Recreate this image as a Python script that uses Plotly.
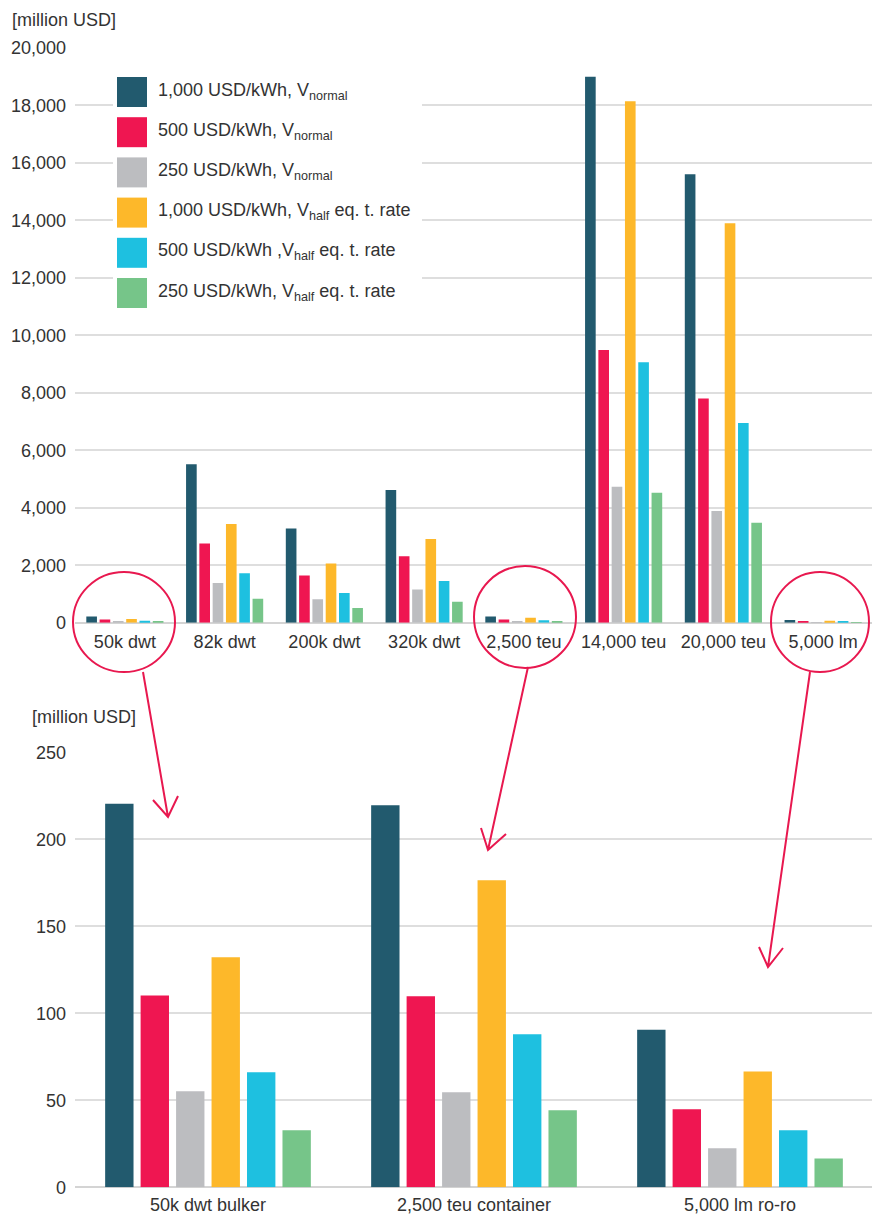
import plotly.graph_objects as go

# ---------------- data ----------------
top_categories = ["50k dwt", "82k dwt", "200k dwt", "320k dwt", "2,500 teu",
                  "14,000 teu", "20,000 teu", "5,000 lm"]
bottom_categories = ["50k dwt bulker", "2,500 teu container", "5,000 lm ro-ro"]

series_names = [
    "1,000 USD/kWh, V<sub>normal</sub>",
    "500 USD/kWh, V<sub>normal</sub>",
    "250 USD/kWh, V<sub>normal</sub>",
    "1,000 USD/kWh, V<sub>half</sub> eq. t. rate",
    "500 USD/kWh ,V<sub>half</sub> eq. t. rate",
    "250 USD/kWh, V<sub>half</sub> eq. t. rate",
]
series_colors = ["#225a6e", "#ef1651", "#bcbdc0", "#fdb82a", "#1ec0e0", "#76c589"]

top_1000_normal = [220, 5510, 3280, 4620, 219, 19000, 15610, 90]
top_500_normal = [110, 2760, 1640, 2310, 110, 9490, 7800, 45]
top_250_normal = [55, 1380, 820, 1155, 55, 4730, 3890, 22.5]
top_1000_half = [132, 3435, 2060, 2910, 176, 18150, 13900, 66]
top_500_half = [66, 1720, 1030, 1455, 88, 9060, 6950, 33]
top_250_half = [33, 835, 515, 728, 44, 4525, 3480, 16.5]

bottom_1000_normal = [220.5, 219.5, 90.5]
bottom_500_normal = [110.3, 109.8, 44.8]
bottom_250_normal = [55.2, 54.6, 22.4]
bottom_1000_half = [132.2, 176.4, 66.6]
bottom_500_half = [66.1, 87.9, 32.8]
bottom_250_half = [32.8, 44.3, 16.6]

top_series = [top_1000_normal, top_500_normal, top_250_normal,
              top_1000_half, top_500_half, top_250_half]
bottom_series = [bottom_1000_normal, bottom_500_normal, bottom_250_normal,
                 bottom_1000_half, bottom_500_half, bottom_250_half]

top_ticks = [0, 2000, 4000, 6000, 8000, 10000, 12000, 14000, 16000, 18000, 20000]
bottom_ticks = [0, 50, 100, 150, 200, 250]

# ---------------- layout helpers ----------------
# the page body has an 8px margin, so the figure starts at (8, 8) of the window
OX, OY = 8, 8
W, H = 872, 1207
FONT = "Liberation Sans, Arial, Helvetica, sans-serif"
TXT = "#333333"
GRID = "#dedede"
ACCENT = "#e8184f"


def px(x):
    return (x - OX) / W


def py(y):
    return 1 - (y - OY) / H


fig = go.Figure()

for name, color, vals in zip(series_names, series_colors, top_series):
    fig.add_trace(go.Bar(x=top_categories, y=vals, name=name, marker_color=color,
                         marker_line_width=0, xaxis="x", yaxis="y",
                         offsetgroup=name, showlegend=False))
for name, color, vals in zip(series_names, series_colors, bottom_series):
    fig.add_trace(go.Bar(x=bottom_categories, y=vals, name=name, marker_color=color,
                         marker_line_width=0, xaxis="x2", yaxis="y2",
                         offsetgroup=name, showlegend=False))

axis_common = dict(showline=False, ticks="", automargin=False,
                   tickfont=dict(size=18, color=TXT, family=FONT))

fig.update_layout(
    width=W, height=H,
    margin=dict(l=0, r=0, t=0, b=0, autoexpand=False),
    paper_bgcolor="white", plot_bgcolor="white",
    barmode="group", bargap=0.2, bargroupgap=0.2,
    font=dict(family=FONT, size=18, color=TXT),
    xaxis=dict(domain=[px(75), px(873)], anchor="y", showgrid=False,
               ticklabelstandoff=6, **axis_common),
    yaxis=dict(domain=[py(622.7), py(48)], anchor="x", range=[0, 20000],
               tickvals=top_ticks, tickformat=",", gridcolor=GRID, gridwidth=1.5,
               zeroline=True, zerolinecolor="#d4d4d4", zerolinewidth=1.5,
               ticklabelstandoff=8, **axis_common),
    xaxis2=dict(domain=[px(75), px(873)], anchor="y2", showgrid=False,
                ticklabelstandoff=5, **axis_common),
    yaxis2=dict(domain=[py(1187.3), py(752.3)], anchor="x2", range=[0, 250],
                tickvals=bottom_ticks, gridcolor=GRID, gridwidth=1.5,
                zeroline=True, zerolinecolor="#d4d4d4", zerolinewidth=1.5,
                ticklabelstandoff=8, **axis_common),
)

shapes = []
annotations = []

# axis unit labels
annotations.append(dict(text="[million USD]", x=px(10), y=py(8), xref="paper", yref="paper",
                        xanchor="left", yanchor="top", showarrow=False,
                        font=dict(size=18, color=TXT, family=FONT)))
annotations.append(dict(text="[million USD]", x=px(30), y=py(717), xref="paper", yref="paper",
                        xanchor="left", yanchor="middle", showarrow=False,
                        font=dict(size=18, color=TXT, family=FONT)))

# custom legend (white background over the gridlines)
shapes.append(dict(type="rect", xref="paper", yref="paper", x0=px(113), x1=px(422),
                   y0=py(70), y1=py(320), fillcolor="white", line_width=0, layer="above"))
for i, (name, color) in enumerate(zip(series_names, series_colors)):
    top = 77 + i * 40.2
    shapes.append(dict(type="rect", xref="paper", yref="paper", x0=px(117), x1=px(147),
                       y0=py(top), y1=py(top + 30), fillcolor=color, line_width=0,
                       layer="above"))
    annotations.append(dict(text=name, x=px(156), y=py(top + 14), xref="paper", yref="paper",
                            xanchor="left", yanchor="middle", showarrow=False,
                            font=dict(size=18, color=TXT, family=FONT)))

# highlight circles
for (cx, cy, rx, ry) in [(124, 622, 51, 50), (525, 617, 51, 51), (820, 622, 49, 50)]:
    shapes.append(dict(type="circle", xref="paper", yref="paper",
                       x0=px(cx - rx), x1=px(cx + rx), y0=py(cy + ry), y1=py(cy - ry),
                       line=dict(color=ACCENT, width=2), layer="above"))

# arrows with open chevron heads
arrows = [
    ((143, 672), (168, 817), (153, 800), (178, 796)),
    ((528, 667), (488, 850), (481, 828), (506, 834)),
    ((810, 672), (768, 967), (759, 947), (783, 948)),
]
for (s, t, a1, a2) in arrows:
    path = (f"M {px(s[0])},{py(s[1])} L {px(t[0])},{py(t[1])} "
            f"M {px(a1[0])},{py(a1[1])} L {px(t[0])},{py(t[1])} L {px(a2[0])},{py(a2[1])}")
    shapes.append(dict(type="path", xref="paper", yref="paper", path=path,
                       line=dict(color=ACCENT, width=2), layer="above"))

fig.update_layout(shapes=shapes, annotations=annotations)

fig.write_html("out.html")
